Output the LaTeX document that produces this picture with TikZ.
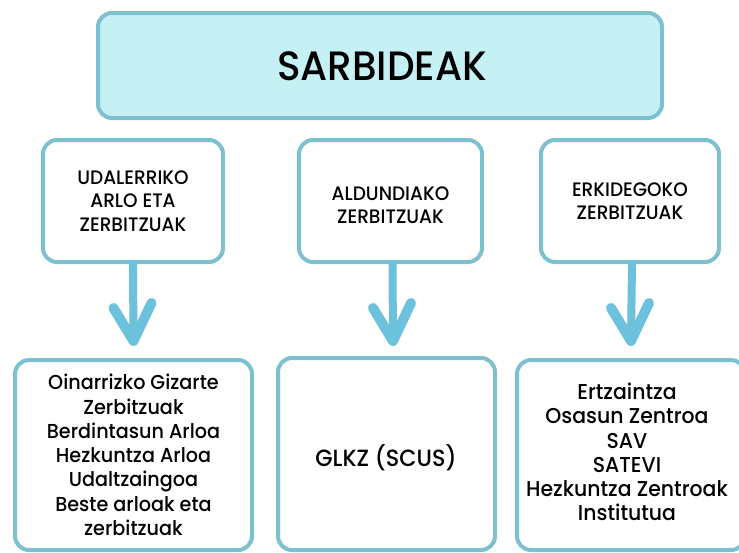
\documentclass[tikz,border=0pt]{standalone}
\usepackage{fontspec}
\setmainfont{Poppins Medium}[FakeStretch=0.95]
\usetikzlibrary{calc}
\definecolor{bordc}{HTML}{7DC0CF}
\definecolor{topfill}{HTML}{C5F1F4}
\definecolor{arrc}{HTML}{6CC2DD}
\tikzset{
  box/.style={draw=bordc, line width=4pt, rounded corners=14pt, fill=white, align=center, inner sep=0pt},
  midtxt/.style={font=\fontsize{19.5}{23.5}\selectfont},
  bottxt/.style={font=\fontsize{20.2}{24.3}\selectfont},
  arrshaft/.style={draw=arrc, line width=8pt, line cap=round},
  arrhead/.style={draw=arrc, line width=10pt, line cap=round, line join=round},
}
\begin{document}
\begin{tikzpicture}[x=1pt,y=-1pt]
\useasboundingbox (0,0) rectangle (739,552);
\node[box, fill=topfill, minimum width=564pt, minimum height=105pt] (top) at (380,65.5) {};
\node[font=\fontsize{41}{43}\selectfont] (toptxt) at (382,66) {SARBIDEAK};

\node[box, midtxt, minimum width=180pt, minimum height=122pt] (m1) at (133,201) {UDALERRIKO\\ARLO ETA\\ZERBITZUAK};
\node[box, midtxt, minimum width=183pt, minimum height=122pt] (m2) at (390.5,201) {};
\node[midtxt, align=center] (m2t) at (390.5,205) {ALDUNDIAKO\\ZERBITZUAK};
\node[box, midtxt, minimum width=178pt, minimum height=122pt] (m3) at (630,201) {ERKIDEGOKO\\ZERBITZUAK};

\node[box, bottxt, minimum width=237pt, minimum height=190pt] (b1) at (133.5,455) {Oinarrizko Gizarte\\Zerbitzuak\\Berdintasun Arloa\\Hezkuntza Arloa\\Udaltzaingoa\\Beste arloak eta\\zerbitzuak};
\node[box, minimum width=217pt, minimum height=192pt] (b2) at (386.5,454) {};
\node[font=\fontsize{23.5}{26}\selectfont] (b2t) at (386,458) {GLKZ (SCUS)};
\node[box, minimum width=228pt, minimum height=190pt] (b3) at (631,455) {};
\node[bottxt, align=center, font=\fontsize{21.5}{24.3}\selectfont] (b3t) at (627,452) {Ertzaintza\\Osasun Zentroa\\SAV\\SATEVI\\Hezkuntza Zentroak\\Institutua};

\coordinate (t1) at ($(b1.north)+(0,-17)$);
\coordinate (t2) at ($(b2.north)+(6.5,-15)$);
\coordinate (t3) at ($(b3.north)+(0,-17)$);

\draw[arrshaft] (m1.south) -- (t1);
\draw[arrhead] ($(t1)+(-20,-33)$) -- (t1) -- ($(t1)+(18,-38)$);
\draw[arrshaft] ([xshift=2pt]m2.south) -- (t2);
\draw[arrhead] ($(t2)+(-20,-33)$) -- (t2) -- ($(t2)+(18,-38)$);
\draw[arrshaft] ([xshift=2pt]m3.south) -- (t3);
\draw[arrhead] ($(t3)+(-20,-33)$) -- (t3) -- ($(t3)+(18,-38)$);
\end{tikzpicture}
\end{document}
